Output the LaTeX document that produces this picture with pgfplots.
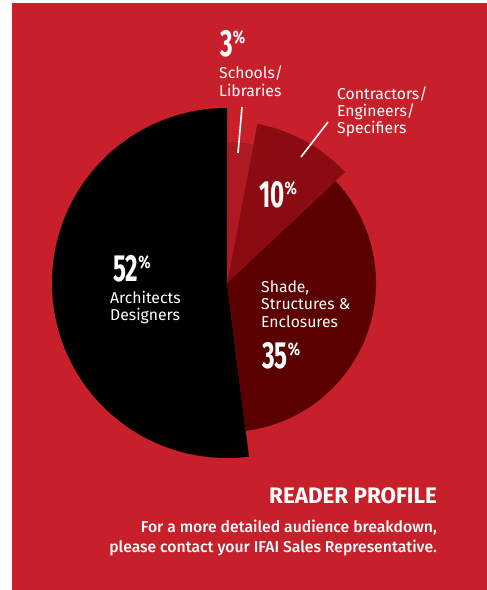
\documentclass[border=0pt]{standalone}
\usepackage{pgfplots}
\pgfplotsset{compat=1.18}
\usepackage{graphicx}
\usepackage{fontspec}
\setmainfont{Fira Sans}
\newfontfamily\firamed{Fira Sans Medium}

\definecolor{bgred}{HTML}{C8202A}
\definecolor{sliceS}{HTML}{AE1A22}
\definecolor{sliceC}{HTML}{8A0C12}
\definecolor{sliceE}{HTML}{5A0000}

% shares in percent, and the radius of each wedge (bp)
\def\pA{52}\def\rA{175} % Architects / Designers
\def\pB{35}\def\rB{149} % Shade, Structures & Enclosures
\def\pC{10}\def\rC{162} % Contractors / Engineers / Specifiers
\def\pD{3}\def\rD{141}  % Schools / Libraries
\pgfmathsetmacro\sA{90}
\pgfmathsetmacro\sB{\sA+\pA*3.6}
\pgfmathsetmacro\sC{\sB+\pB*3.6}
\pgfmathsetmacro\sD{\sC+\pC*3.6}

\newcommand\bignum[1]{%
  \scalebox{0.64}[1]{\fontsize{38}{38}\selectfont\bfseries #1}%
  \raisebox{13bp}{\scalebox{0.8}[1]{\fontsize{18}{18}\selectfont\bfseries\%}}}
\newcommand\lbl{\fontsize{15.8}{17}\selectfont}

\begin{document}
\begin{tikzpicture}
\begin{axis}[
    x=1bp, y=1bp,
    xmin=-227, xmax=260,
    ymin=-307, ymax=283,
    hide axis,
    clip=false,
]
\fill[white] (axis cs:-227,-307) rectangle (axis cs:260,283);
\fill[bgred] (axis cs:-215,-307) rectangle (axis cs:260,280);

\fill[black]  (axis cs:0,0) -- ++(\sA:\rA bp) arc[start angle=\sA, delta angle={\pA*3.6}, radius=\rA bp] -- cycle;
\fill[sliceE] (axis cs:0,0) -- ++(\sB:\rB bp) arc[start angle=\sB, delta angle={\pB*3.6}, radius=\rB bp] -- cycle;
\fill[sliceC] (axis cs:0,0) -- ++(\sC:\rC bp) arc[start angle=\sC, delta angle={\pC*3.6}, radius=\rC bp] -- cycle;
\fill[sliceS] (axis cs:0,0) -- ++(\sD:\rD bp) arc[start angle=\sD, delta angle={\pD*3.6}, radius=\rD bp] -- cycle;

% leader lines
\draw[white, line width=1.6bp] (axis cs:15,176) -- (axis cs:11,130);
\draw[white, line width=1.6bp] (axis cs:101,161) -- (axis cs:74,126);

\begin{scope}[every node/.style={text=white, inner sep=0pt, anchor=base west}]
\node at (axis cs:-7,226) {\bignum{3}};
\node at (axis cs:-8,204) {\lbl Schools/};
\node at (axis cs:-8,186) {\lbl Libraries};

\node at (axis cs:110,183) {\lbl Contractors/};
\node at (axis cs:110,166) {\lbl Engineers/};
\node at (axis cs:110,149) {\lbl Specifiers};
\node at (axis cs:32,75) {\bignum{10}};

\node at (axis cs:-114,1) {\bignum{52}};
\node at (axis cs:-117,-21) {\lbl Architects};
\node at (axis cs:-117,-38) {\lbl Designers};

\node at (axis cs:34,-10) {\lbl Shade,};
\node at (axis cs:34,-27) {\lbl Structures \&};
\node at (axis cs:34,-45) {\lbl Enclosures};
\node at (axis cs:35,-86) {\bignum{35}};

\node[anchor=base east] at (axis cs:210,-221) {\fontsize{22.5}{22}\selectfont\bfseries READER PROFILE};
\node[anchor=base east] at (axis cs:210,-250) {\firamed\fontsize{15.8}{17}\selectfont For a more detailed audience breakdown,};
\node[anchor=base east] at (axis cs:210,-270) {\firamed\fontsize{15.8}{17}\selectfont please contact your IFAI Sales Representative.};
\end{scope}
\end{axis}
\end{tikzpicture}
\end{document}
